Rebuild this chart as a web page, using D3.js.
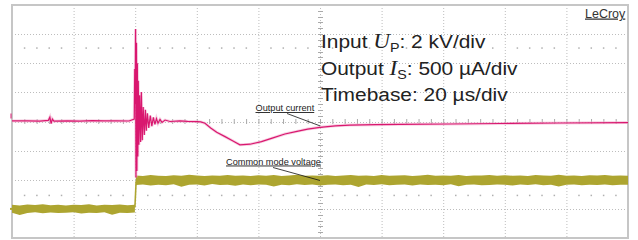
<!DOCTYPE html>
<html><head><meta charset="utf-8">
<script src="https://cdn.jsdelivr.net/npm/d3@7"></script>
<style>html,body{margin:0;padding:0;background:#fff;overflow:hidden}</style>
</head><body>
<svg id="c" width="638" height="240"></svg>
<script>
// ---- data ----
const timeDivs = [-40,-20,0,20,40,60,80,100,120,140,160];          // µs, 20 µs/div
const currentDivs = [-2000,-1500,-1000,-500,0,500,1000,1500,2000]; // µA, 500 µA/div
const cursorLevels = [1265,-1265];                                 // µA, dotted marker rows

// Output current (µA) vs time (µs)
const currT = [-40,-35,-31,-28.2,-27.7,-27.3,-26.9,-26.4,-22,-18,-14,-10,-6,-2,-0.3,
  -0.15,0,0.12,0.25,0.4,0.55,0.7,0.85,1.0,1.2,1.45,1.75,2.0,2.3,2.6,2.95,3.3,3.6,3.95,4.4,4.9,5.4,5.9,6.4,6.9,7.4,8.05,8.7,9.7,11.3,14.5,17,
  20.07,21.3,22.66,24.5,26.46,29.16,31.75,34,37.27,41,44.74,48.6,52.53,56,60,65,69.7,78,86,102,118.5,138,160];
const currI = [10,12,8,20,75,-35,40,5,12,8,14,10,12,9,40,
  900,300,1590,-960,1350,-850,1000,-600,700,-400,450,-350,506,-320,250,-230,200,-160,140,-110,100,-80,70,-50,50,-30,35,-15,25,0,10,2,-2,
  -8,-30,-110,-185,-260,-335,-400,-390,-345,-280,-215,-170,-130,-100,-75,-62,-55,-48,-43,-34,-26,-18,-14];

// Common mode voltage (kV) noise envelope vs time (µs)
const cmPreT  = [-40,-37.5,-35,-32.5,-30,-27.5,-25,-22.5,-20,-17.5,-15,-12.5,-10,-7.5,-5,-2.5,-0.1];
const cmPreHi = [-5.72,-5.76,-5.70,-5.74,-5.68,-5.75,-5.72,-5.77,-5.71,-5.74,-5.69,-5.76,-5.72,-5.73,-5.70,-5.75,-5.72];
const cmPreLo = [-6.26,-6.42,-6.28,-6.24,-6.30,-6.25,-6.29,-6.27,-6.23,-6.31,-6.26,-6.28,-6.24,-6.40,-6.27,-6.29,-6.25];
const cmPostHi = [-3.70,-3.74,-3.68,-3.72,-3.75,-3.69,-3.73,-3.66,-3.71,-3.74,-3.70,-3.72,-3.67,-3.73,-3.70,-3.75,-3.69,-3.72,-3.68,-3.74,-3.71,-3.66,-3.73,-3.70,-3.72,-3.69,-3.75,-3.71,-3.68,-3.73,-3.70,-3.74,-3.67,-3.72,-3.70,-3.69,-3.74,-3.71,-3.66,-3.73,-3.70,-3.72,-3.68,-3.75,-3.70,-3.71,-3.67,-3.73,-3.69,-3.72,-3.70,-3.74,-3.68,-3.71,-3.73,-3.66,-3.72,-3.70,-3.74,-3.69,-3.71,-3.68,-3.73,-3.70,-3.72];
const cmPostLo = [-4.36,-4.32,-4.40,-4.34,-4.38,-4.31,-4.48,-4.35,-4.33,-4.39,-4.30,-4.36,-4.34,-4.41,-4.33,-4.37,-4.32,-4.35,-4.46,-4.34,-4.38,-4.31,-4.36,-4.33,-4.40,-4.35,-4.32,-4.37,-4.34,-4.50,-4.33,-4.36,-4.31,-4.38,-4.35,-4.33,-4.39,-4.32,-4.36,-4.34,-4.37,-4.31,-4.44,-4.35,-4.33,-4.38,-4.36,-4.32,-4.35,-4.39,-4.33,-4.36,-4.31,-4.37,-4.34,-4.47,-4.35,-4.32,-4.38,-4.34,-4.36,-4.33,-4.37,-4.35,-4.34];
const cmPostT = [0.2].concat(d3.range(2.5,160.01,2.5));

const infoLines = ["Input", "Output", "Timebase: 20 µs/div"];

// ---- layout ----
const svg = d3.select("#c");
const L=12,R=628,T=5,B=238;
const x = d3.scaleLinear([-40,160],[L,R]);
const yI = d3.scaleLinear([-2000,2000],[B,T]);
const yV = d3.scaleLinear([-8,8],[B,T]);
const grey="#bdbdbd";

// grid
const g = svg.append("g");
g.selectAll("line.v").data(timeDivs.slice(1,-1)).join("line")
  .attr("x1",d=>x(d)+0.5).attr("x2",d=>x(d)+0.5).attr("y1",T).attr("y2",B)
  .attr("stroke",grey).attr("stroke-dasharray","1,2");
g.selectAll("line.h").data(currentDivs.slice(1,-1)).join("line")
  .attr("y1",d=>Math.round(yI(d))+0.5).attr("y2",d=>Math.round(yI(d))+0.5).attr("x1",L).attr("x2",R)
  .attr("stroke",grey).attr("stroke-dasharray","1,2");

// center axis ticks
const subX = d3.range(-40,160.01,4), subY = d3.range(-2000,2000.01,100);
g.selectAll("line.tx").data(subX).join("line")
  .attr("x1",d=>x(d)+0.5).attr("x2",d=>x(d)+0.5).attr("y1",yI(0)-2.5).attr("y2",yI(0)+2.5)
  .attr("stroke","#aaa");
g.selectAll("line.ty").data(subY).join("line")
  .attr("y1",d=>Math.round(yI(d))+0.5).attr("y2",d=>Math.round(yI(d))+0.5).attr("x1",x(60)-2).attr("x2",x(60)+3)
  .attr("stroke","#aaa");
// cursor dotted rows
cursorLevels.forEach(lv=>{
  g.selectAll(null).data(subX.filter((d,i)=>i%5!==0)).join("rect")
    .attr("x",d=>x(d)-0.5).attr("y",yI(lv)-0.5).attr("width",1.5).attr("height",1.5).attr("fill","#b0b0b0");
});

// border
svg.append("rect").attr("x",L).attr("y",T).attr("width",R-L).attr("height",B-T)
  .attr("fill","none").attr("stroke","#c6c6c6").attr("stroke-width",2);

// common mode voltage band
const olive="#ada530";
const pre = cmPreT.map((t,i)=>({t,hi:cmPreHi[i],lo:cmPreLo[i]}));
const post = cmPostT.map((t,i)=>({t,hi:cmPostHi[i],lo:cmPostLo[i]})).filter(d=>d.hi!==undefined);
const area = d3.area().x(d=>x(d.t)).y0(d=>yV(d.lo)).y1(d=>yV(d.hi));
svg.append("path").attr("d",area(pre)).attr("fill",olive);
svg.append("path").attr("d",area(post)).attr("fill",olive);
// step edge
svg.append("line").attr("x1",x(-0.1)).attr("x2",x(0.3)).attr("y1",yV(-5.9)).attr("y2",yV(-4.1))
  .attr("stroke",olive).attr("stroke-width",1.6);

// output current trace
const pink="#d9176f";
const cur = currT.map((t,i)=>({t,v:currI[i]}));
const line = d3.line().x(d=>x(d.t)).y(d=>yI(d.v));
svg.append("path").attr("d",line(cur)).attr("fill","none").attr("stroke","#f1b3d0").attr("stroke-width",3).attr("opacity",0.6);
svg.append("path").attr("d",line(cur)).attr("fill","none").attr("stroke",pink).attr("stroke-width",1.2);

// channel markers
svg.append("line").attr("x1",L-1).attr("x2",L-1).attr("y1",yI(0)-8).attr("y2",yI(0)-3).attr("stroke",pink).attr("stroke-width",1);
svg.append("line").attr("x1",L-2).attr("x2",L+1).attr("y1",yV(-6)).attr("y2",yV(-6)).attr("stroke",olive).attr("stroke-width",2);

// annotations
const font="'Liberation Sans', Arial, sans-serif";
function label(txt,tx,ty,ex,ey,sx,sy){
  svg.append("text").attr("x",tx).attr("y",ty).attr("font-family",font).attr("font-size",9.2)
    .attr("fill","#222").attr("text-decoration","underline").text(txt);
  svg.append("line").attr("x1",sx).attr("y1",sy).attr("x2",ex).attr("y2",ey).attr("stroke","#111").attr("stroke-width",0.8);
}
label("Output current",255.5,111, x(60), yI(-75), 287,113.5);
label("Common mode voltage",226,164.5, x(60), yV(-4.05), 273,167.5);

// LeCroy
svg.append("text").attr("x",585).attr("y",17.5).attr("font-family",font).attr("font-size",12.5)
  .attr("fill","#333").attr("text-decoration","underline").text("LeCroy");

// info text (horizontally widened like the reference)
const info = svg.append("g").attr("font-family",font).attr("font-size",19).attr("fill","#222")
  .attr("transform","translate(321,0) scale(1.1,1) translate(-321,0)");
let t1 = info.append("text").attr("x",321).attr("y",48.5);
t1.append("tspan").text(infoLines[0]+" ");
t1.append("tspan").attr("font-family","'Liberation Serif', 'Times New Roman', serif").attr("font-style","italic").attr("font-size",21).text("U");
t1.append("tspan").attr("font-size",13).attr("dy",4).text("P");
t1.append("tspan").attr("dy",-4).text(": 2 kV/div");
let t2 = info.append("text").attr("x",321).attr("y",74.8);
t2.append("tspan").text(infoLines[1]+" ");
t2.append("tspan").attr("font-family","'Liberation Serif', 'Times New Roman', serif").attr("font-style","italic").attr("font-size",21).text("I");
t2.append("tspan").attr("font-size",13).attr("dy",4).text("S");
t2.append("tspan").attr("dy",-4).text(": 500 µA/div");
info.append("text").attr("x",321).attr("y",101).text(infoLines[2]);
</script>
</body></html>
